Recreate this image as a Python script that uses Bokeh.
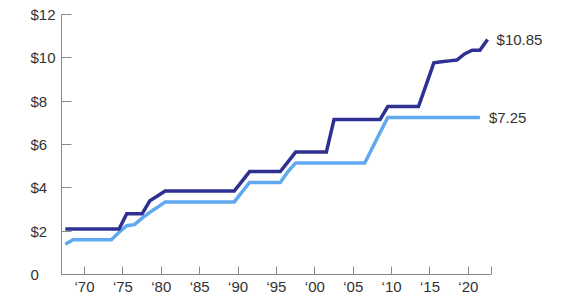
from bokeh.plotting import figure
from bokeh.models import ColumnDataSource, FixedTicker, LabelSet, Range1d
from bokeh.core.properties import value
from bokeh.transform import dodge
from bokeh.embed import file_html
from bokeh.resources import INLINE

# Federal minimum wage (light blue)
fed_years = list(range(1967, 2022))
fed_wage = ([1.40] + [1.60] * 6 + [1.95, 2.25, 2.30, 2.60, 2.87, 3.10] + [3.35] * 10
            + [3.80] + [4.25] * 5 + [4.75] + [5.15] * 10 + [5.85, 6.55] + [7.25] * 13)

# Higher (dark blue) series
top_years = list(range(1967, 2023))
top_wage = ([2.10] * 8 + [2.80] * 3 + [3.40, 3.62] + [3.85] * 10 + [4.30] + [4.75] * 5
            + [5.20] + [5.65] * 5 + [7.15] * 7 + [7.75] * 5
            + [8.75, 9.77, 9.82, 9.86, 9.90, 10.18, 10.35, 10.35, 10.85])

end_labels = ["$10.85", "$7.25"]

x_ticks = [1970, 1975, 1980, 1985, 1990, 1995, 2000, 2005, 2010, 2015, 2020, 2023]
x_tick_labels = ["\u201870", "\u201875", "\u201880", "\u201885", "\u201890", "\u201895",
                 "\u201800", "\u201805", "\u201810", "\u201815", "\u201820", ""]
y_ticks = [0, 2, 4, 6, 8, 10, 12]
y_tick_labels = ["0\u2007\u2007", "$2\u2007", "$4\u2007", "$6\u2007", "$8\u2007", "$10", "$12"]

DARK = "#2e3192"
LIGHT = "#60a9f0"
TEXT = "#333333"
AXIS = "#8a8a8a"
FONT = "Liberation Sans"

p = figure(width=570, height=300, output_backend="svg", toolbar_location=None,
           x_range=Range1d(1967, 2032), y_range=Range1d(0, 12),
           min_border_left=61, min_border_right=10, min_border_top=14, min_border_bottom=26)
p.outline_line_color = None
p.grid.visible = False
p.background_fill_color = "white"
p.border_fill_color = "white"

fed_src = ColumnDataSource(dict(year=fed_years, wage=fed_wage))
top_src = ColumnDataSource(dict(year=top_years, wage=top_wage))

p.line(x=dodge("year", 0.5), y="wage", source=fed_src, line_color=LIGHT, line_width=3.5,
       line_join="miter")
p.line(x=dodge("year", 0.5), y="wage", source=top_src, line_color=DARK, line_width=3.5,
       line_join="miter")

lab_src = ColumnDataSource(dict(year=[top_years[-1], fed_years[-1]],
                                wage=[top_wage[-1], fed_wage[-1]],
                                text=end_labels))
p.add_layout(LabelSet(x=dodge("year", 0.5), y="wage", text="text", source=lab_src,
                      x_offset=9, text_baseline="middle", text_align="left",
                      text_font=value(FONT), text_font_size=value("15px"),
                      text_color=value(TEXT)))

for ax in (p.xaxis[0], p.yaxis[0]):
    ax.axis_line_color = AXIS
    ax.axis_line_width = 1
    ax.major_tick_line_color = AXIS
    ax.major_tick_out = 0
    ax.minor_tick_line_color = None
    ax.major_label_text_font = FONT
    ax.major_label_text_font_size = "15px"
    ax.major_label_text_color = TEXT

p.xaxis.bounds = (1967, 2023)
p.xaxis.ticker = FixedTicker(ticks=x_ticks)
p.xaxis.major_label_overrides = dict(zip(x_ticks, x_tick_labels))
p.xaxis.major_tick_in = 8
p.xaxis.major_label_standoff = 3

p.yaxis.ticker = FixedTicker(ticks=y_ticks)
p.yaxis.major_label_overrides = dict(zip(y_ticks, y_tick_labels))
p.yaxis.major_tick_in = 10
p.yaxis.major_label_standoff = 6

open("out.html", "w").write(file_html(p, INLINE))
